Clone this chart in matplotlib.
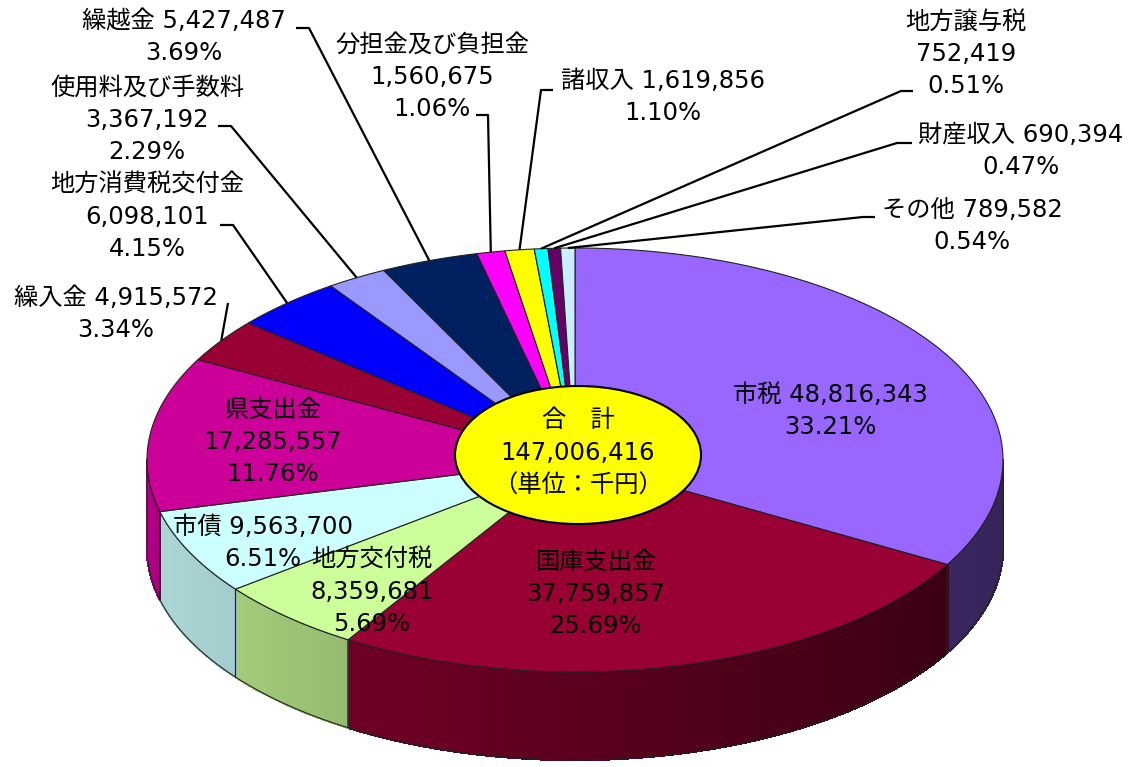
import numpy as np
import matplotlib.pyplot as plt
from matplotlib.patches import Polygon, Ellipse
from matplotlib.collections import PolyCollection
from matplotlib.colors import to_rgb

plt.rcParams['font.family'] = ['DejaVu Sans', 'Noto Sans CJK JP']

# revenue by source (unit: 1,000 yen), clockwise from 12 o'clock
names = ['市税', '国庫支出金', '地方交付税', '市債', '県支出金', '繰入金',
         '地方消費税交付金', '使用料及び手数料', '繰越金', '分担金及び負担金',
         '諸収入', '地方譲与税', '財産収入', 'その他']
values = [48816343, 37759857, 8359681, 9563700, 17285557, 4915572,
          6098101, 3367192, 5427487, 1560675, 1619856, 752419, 690394, 789582]
colors = ['#9966FF', '#990033', '#CCFF99', '#CCFFFF', '#CC0099', '#990033',
          '#0000FF', '#9999FF', '#002060', '#FF00FF', '#FFFF00', '#00FFFF',
          '#660066', '#CCECFF']
# name and amount share one line?
one_line = [True, False, False, True, False, True,
            False, False, True, False, True, False, True, True]

# layout (pixels)
cx, cy, a, b, depth = 575, 460, 428, 212, 88
label_xy = [(830, 395), (596, 562), (372, 560), (263, 527), (273, 410), (116, 298),
            (147, 185), (147, 88), (184, 21), (432, 45), (663, 81), (966, 22),
            (1021, 135), (972, 210)]
leaders = {5: [(228, 303)], 6: [(220, 225), (233, 225)], 7: [(218, 126), (231, 126)],
           8: [(296, 28), (309, 28)], 9: [(476, 115), (488, 115)],
           10: [(553, 90), (541, 90)], 11: [(913, 91), (901, 91)],
           12: [(912, 143), (897, 143)], 13: [(875, 217), (863, 217)]}
fs = 17.5

total = sum(values)
frac = np.array(values) / total
cum = np.concatenate([[0], np.cumsum(frac)])
phi_start = np.radians(90 - 360 * cum[:-1])
phi_end = np.radians(90 - 360 * cum[1:])


def rim(phi, drop=0):
    return cx + a * np.cos(phi), cy - b * np.sin(phi) + drop


def shade(phi):
    return 0.35 + 0.5 * (1 - np.cos(phi)) / 2


fig = plt.figure(figsize=(11.36, 7.67), dpi=100)
ax = fig.add_axes([0, 0, 1, 1])
ax.set_xlim(0, 1136)
ax.set_ylim(767, 0)
ax.axis('off')

# side walls of the front half
for i in range(len(values)):
    p0 = min(phi_start[i], 0)
    p1 = max(phi_end[i], -np.pi)
    if p0 <= p1:
        continue
    n = max(2, int(np.degrees(p0 - p1)))
    ph = np.linspace(p0, p1, n + 1)
    base = np.array(to_rgb(colors[i]))
    quads, cols = [], []
    for k in range(n):
        x0, y0 = rim(ph[k])
        x1, y1 = rim(ph[k + 1])
        quads.append([(x0, y0), (x1, y1), (x1, y1 + depth), (x0, y0 + depth)])
        cols.append(np.clip(base * shade((ph[k] + ph[k + 1]) / 2), 0, 1))
    ax.add_collection(PolyCollection(quads, facecolors=cols, edgecolors=cols,
                                     linewidths=1.0, antialiaseds=False, zorder=1))
    xt, yt = rim(ph)
    outline = list(zip(xt, yt)) + list(zip(xt[::-1], yt[::-1] + depth))
    ax.add_patch(Polygon(outline, closed=True, fill=False, ec='#222222',
                         lw=0.8, zorder=1.5))

# top surface
for i in range(len(values)):
    n = max(2, int(np.degrees(phi_start[i] - phi_end[i]) * 2))
    ph = np.linspace(phi_start[i], phi_end[i], n + 1)
    xs, ys = rim(ph)
    pts = [(cx, cy)] + list(zip(xs, ys))
    ax.add_patch(Polygon(pts, closed=True, fc=colors[i], ec='#222222',
                         lw=0.8, zorder=2))

# labels
for i in range(len(values)):
    amt = f'{values[i]:,}'
    pct = f'{frac[i] * 100:.2f}%'
    lines = [f'{names[i]} {amt}', pct] if one_line[i] else [names[i], amt, pct]
    x, y = label_xy[i]
    for k, s in enumerate(lines):
        ax.text(x, y + 32 * k, s, ha='center', va='center', fontsize=fs,
                color='black', zorder=5)
    if i in leaders:
        mid = (phi_start[i] + phi_end[i]) / 2
        px, py = rim(mid)
        pts = leaders[i] + [(px, py)]
        ax.plot([p[0] for p in pts], [p[1] for p in pts], color='black',
                lw=1.6, zorder=4, solid_capstyle='butt')

# total in the centre
ax.add_patch(Ellipse((578, 455), 246, 138, fc='#FFFF00', ec='black', lw=1.5,
                     zorder=3))
ax.text(578, 420, '合　計', ha='center', va='center', fontsize=fs, zorder=5)
ax.text(578, 453, f'{total:,}', ha='center', va='center', fontsize=fs, zorder=5)
ax.text(578, 486, '（単位：千円）', ha='center', va='center', fontsize=fs, zorder=5)

fig.savefig('out.png', dpi=100)
